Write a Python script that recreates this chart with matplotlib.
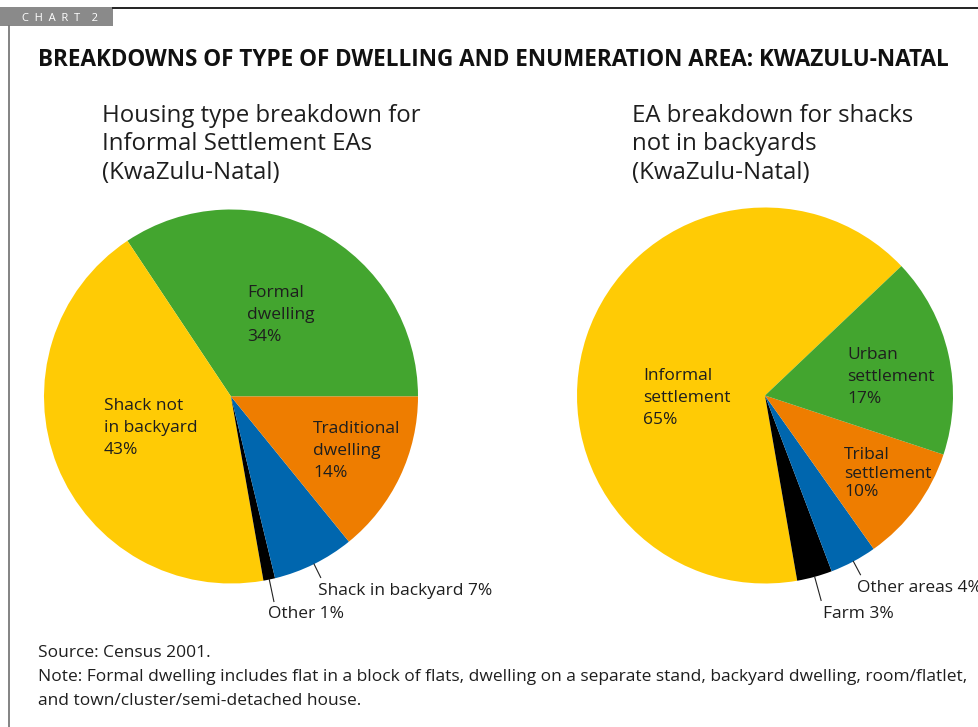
import matplotlib
matplotlib.use("Agg")
import matplotlib.pyplot as plt
import numpy as np
from matplotlib.lines import Line2D
from matplotlib.patches import Rectangle

W, H = 979, 727
FONT = ["Open Sans", "DejaVu Sans"]
TXT = "#1e1e1e"

# ---------------- data ----------------
chart_tag = "C  H  A  R  T    2"
main_title = "BREAKDOWNS OF TYPE OF DWELLING AND ENUMERATION AREA: KWAZULU-NATAL"
left_title = ["Housing type breakdown for", "Informal Settlement EAs", "(KwaZulu-Natal)"]
right_title = ["EA breakdown for shacks", "not in backyards", "(KwaZulu-Natal)"]

left_labels = ["Formal\ndwelling", "Shack not\nin backyard", "Other", "Shack in backyard", "Traditional\ndwelling"]
left_values = [34, 43, 1, 7, 14]
right_labels = ["Informal\nsettlement", "Farm", "Other areas", "Tribal\nsettlement", "Urban\nsettlement"]
right_values = [65, 3, 4, 10, 17]

GREEN, YELLOW, ORANGE, BLUE, BLACK = "#43a52f", "#ffcb05", "#ee7d00", "#0066ae", "#000000"
left_colors = [GREEN, YELLOW, BLACK, BLUE, ORANGE]
right_colors = [YELLOW, BLACK, BLUE, ORANGE, GREEN]

source_text = "Source: Census 2001."
note_lines = ["Note: Formal dwelling includes flat in a block of flats, dwelling on a separate stand, backyard dwelling, room/flatlet,",
              "and town/cluster/semi-detached house."]

# ---------------- layout (pixels) ----------------
fig = plt.figure(figsize=(W / 100, H / 100), dpi=100)
fig.patch.set_facecolor("white")
renderer = fig.canvas.get_renderer()


def fx(x):
    return x / W


def fy(y):
    return 1 - y / H


def fit_size(text, target_px, weight="normal", base=12):
    t = fig.text(0, 0, text, fontsize=base, family=FONT, weight=weight)
    w = t.get_window_extent(renderer).width
    t.remove()
    return base * target_px / w


def put(x, y, s, size, weight="normal", color=TXT):
    fig.text(fx(x), fy(y), s, fontsize=size, family=FONT, weight=weight,
             color=color, ha="left", va="baseline")


# frame: chart tag box, top rule, left rule
fig.add_artist(Rectangle((0, fy(26)), fx(113), fy(7) - fy(26), transform=fig.transFigure,
                         facecolor="#8a8a8a", edgecolor="none"))
fig.add_artist(Line2D([fx(113), 1], [fy(7.5), fy(7.5)], transform=fig.transFigure,
                      color="#111111", lw=1.3))
fig.add_artist(Line2D([fx(9), fx(9)], [fy(26), 0], transform=fig.transFigure,
                      color="#7a7a7a", lw=1.3))
put(22, 21, chart_tag, min(8.0, fit_size(chart_tag, 78)), color="white")

# main title
put(38, 66, main_title, fit_size(main_title, 913, weight="bold"), weight="bold", color="#111111")

# sub titles
title_size = fit_size(left_title[0], 316)
for i, line in enumerate(left_title):
    put(102, 122 + i * 28.5, line, title_size)
for i, line in enumerate(right_title):
    put(632, 122 + i * 28.5, line, title_size)

label_size = fit_size("Shack in backyard 7%", 174)


def draw_pie(cx, cy, r, values, colors, labels, startangle, label_pos, leaders):
    ax = fig.add_axes([fx(cx - r), fy(cy + r), fx(2 * r), (2 * r) / H])
    ax.pie(values, colors=colors, startangle=startangle, counterclock=True,
           wedgeprops=dict(linewidth=0))
    ax.set_xlim(-1, 1)
    ax.set_ylim(-1, 1)
    ax.axis("off")
    total = float(sum(values))
    cum = np.cumsum([0] + list(values))
    for i, (lab, v) in enumerate(zip(labels, values)):
        x, y, sp = label_pos[i]
        if "\n" in lab:
            lines = lab.split("\n") + [f"{v}%"]
        else:
            lines = [f"{lab} {v}%"]
        for j, line in enumerate(lines):
            put(x, y + j * sp, line, label_size)
        if i in leaders:
            mid = np.deg2rad(startangle + 360 * (cum[i] + cum[i + 1]) / 2 / total)
            r0, r1 = r * 1.0, r * leaders[i]
            fig.add_artist(Line2D([fx(cx + r0 * np.cos(mid)), fx(cx + r1 * np.cos(mid))],
                                  [fy(cy - r0 * np.sin(mid)), fy(cy - r1 * np.sin(mid))],
                                  transform=fig.transFigure, color="#222222", lw=0.8))


# left pie
draw_pie(231, 396.5, 187, left_values, left_colors, left_labels, 0,
         {0: (247, 297, 21.8), 1: (104, 410, 21.8), 2: (268, 618, 0),
          3: (318, 595, 0), 4: (313, 433, 22)},
         {2: 1.12, 3: 1.08})

# right pie
draw_pie(765, 395.5, 188, right_values, right_colors, right_labels, 43.5,
         {0: (643, 380, 22), 1: (823, 618, 0), 2: (857, 592, 0),
          3: (844, 459, 18.5), 4: (847, 359, 22)},
         {1: 1.13, 2: 1.08})

# footer
foot_size = fit_size(note_lines[0], 920)
put(38, 657, source_text, foot_size)
for i, line in enumerate(note_lines):
    put(38, 681 + i * 24, line, foot_size)

fig.savefig("out.png", dpi=100, facecolor="white")
